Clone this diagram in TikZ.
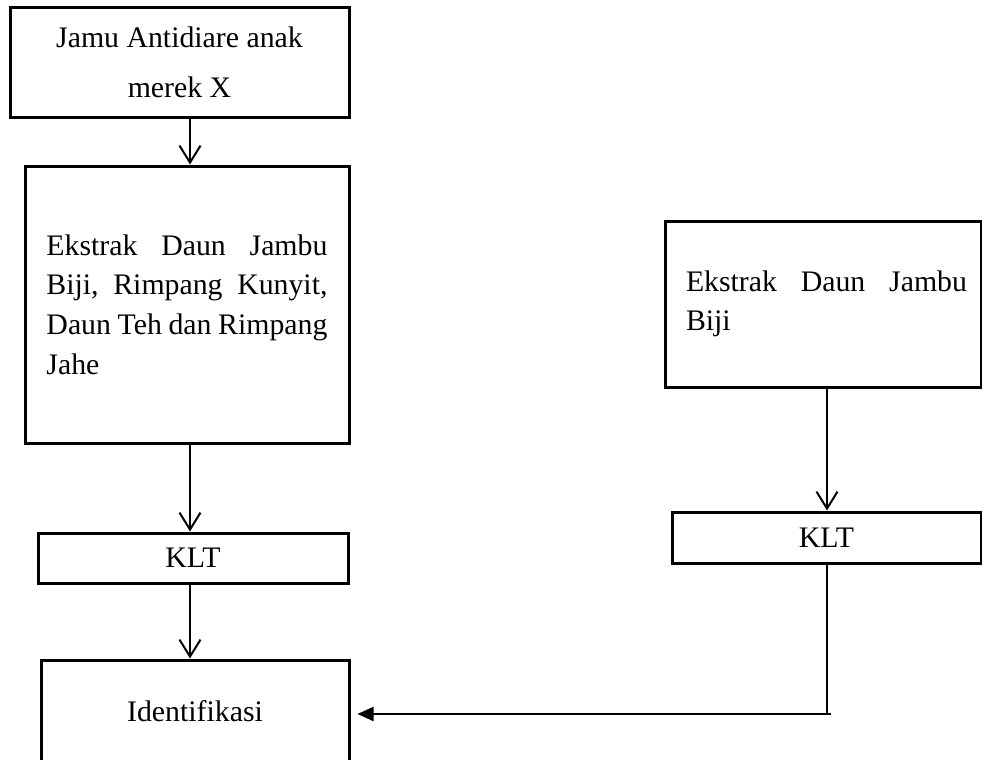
\documentclass[tikz,border=0pt]{standalone}
\usepackage{fontspec}
\setmainfont{Liberation Serif}
\usetikzlibrary{arrows.meta}

\tikzset{
  box/.style={draw, line width=1.5pt, inner sep=0pt, font=\fontsize{14.9pt}{19.8pt}\selectfont},
  flow/.style={line width=1pt, -{Straight Barb[length=8.5pt,width=10.5pt]}},
  back/.style={line width=1pt, -{Triangle[length=8pt,width=7pt]}}
}
\newcommand{\spreadline}[1]{\makebox[140.5pt][l]{#1}}

\begin{document}
\begin{tikzpicture}[x=0.5pt, y=-0.5pt]
  \useasboundingbox (0,0) rectangle (982,760);

  % left column
  \node[box, minimum width=169.5pt, minimum height=55pt, align=center,
        font=\fontsize{14.9pt}{25pt}\selectfont] (jamu) at (179.5,62)
        {Jamu Antidiare anak\\merek X};
  \node[box, minimum width=162pt, minimum height=138.5pt, text width=140.5pt,
        align=left] (ekstrak) at (187,304.5)
        {\spreadline{Ekstrak\hfill Daun\hfill Jambu}\\
         \spreadline{Biji,\hfill Rimpang\hfill Kunyit,}\\
         \spreadline{Daun\hfill Teh\hfill dan\hfill Rimpang}\\
         Jahe};
  \node[box, minimum width=155pt, minimum height=25pt] (klt) at (193,558) {KLT};
  \node[box, minimum width=154pt, minimum height=51pt] (ident) at (195,711) {Identifikasi};

  % right column
  \node[box, minimum width=158pt, minimum height=83pt, text width=144pt,
        inner xsep=7pt, align=left] (daun) at (823,304)
        {\hspace*{3.5pt}\spreadline{Ekstrak\hfill Daun\hfill Jambu}\\
         \hspace*{3.5pt}Biji};
  \node[box, minimum width=154.5pt, minimum height=25.5pt] (klt2) at (826.5,537.5) {KLT};

  % connectors
  \coordinate (lcol) at (190,0);
  \coordinate (rcol) at (827,0);
  \coordinate (turn) at (827,714);
  \draw[flow] (jamu.south -| lcol) -- (ekstrak.north -| lcol);
  \draw[flow] (ekstrak.south -| lcol) -- (klt.north -| lcol);
  \draw[flow] (klt.south -| lcol) -- (ident.north -| lcol);
  \draw[flow] (daun.south -| rcol) -- (klt2.north -| rcol);
  \draw[line width=1pt] (klt2.south -| rcol) -- (turn);
  \draw[back, shorten >=3.5pt] ([xshift=2pt]turn) -- (turn -| ident.east);
\end{tikzpicture}
\end{document}
